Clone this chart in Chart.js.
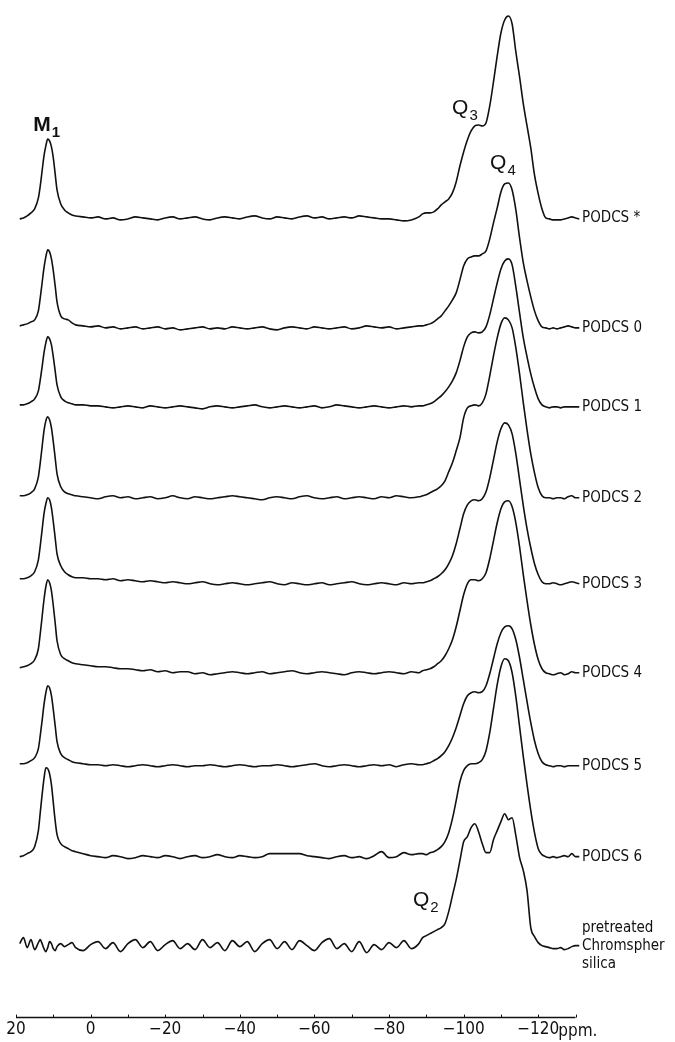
<!DOCTYPE html>
<html><head><meta charset="utf-8">
<script src="https://cdn.jsdelivr.net/npm/chart.js@4.4.1/dist/chart.umd.min.js"></script>
<style>html,body{margin:0;padding:0;background:#fff;}canvas{display:block;}</style>
</head><body>
<canvas id="c" width="675" height="1042" style="width:675px;height:1042px"></canvas>
<script>
// chemical shift grid (ppm)
const ppm = [19,18,17,16,15,14,13.5,13,12.5,12,11.5,11,10.5,10,9.5,9,8,7,6,5,4,
  2,0,-2,-4,-6,-8,-10,-12,-14,-16,-18,-20,-22,-24,-26,-28,-30,-32,-34,-36,-38,-40,-42,-44,-46,-48,-50,-52,-54,-56,-58,-60,-62,-64,-66,-68,-70,-72,-74,-76,-78,-80,-82,-84,-86,-88,
  -89,-90,-91,-92,-93,-94,-95,-96,-97,-98,-99,-100,-101,-102,-103,-104,-105,-106,-107,-108,-109,-110,-111,-112,-113,-114,-115,-116,-117,-118,-119,-120,-121,-122,-123,-124,-125,-126,-127,-128,-129,-130,-131];

const names = ['PODCS *','PODCS 0','PODCS 1','PODCS 2','PODCS 3','PODCS 4','PODCS 5','PODCS 6','pretreated\nChromspher\nsilica'];
const offsets = [800,690,611,520,434,345,252,161,72];

const podcsStar = [-1,0,2,5,9,20,32,47,62,72,79,77,71,60,44,28,14,8,5,3,2,
  1,0,1,-1,0,-2,-1,1,0,-1,-2,0,1,-1,0,1,-1,-2,0,1,0,-1,1,2,0,-1,1,0,-1,1,2,0,1,-1,0,1,0,2,1,0,-1,-1,-2,-3,-2,1,
  4,5,5,6,9,13,16,19,25,36,52,66,78,87,92,93,92,95,112,136,162,185,198,202,194,166,141,114,92,70,43,24,9,0,-1,-2,-2,-2,-1,0,1,0,-1];
const podcs0 = [2,3,4,6,8,17,30,45,60,71,78,76,69,57,42,26,12,9,8,5,3,
  2,1,2,0,1,-1,0,1,-1,0,1,-1,0,-2,-1,0,1,-1,0,-1,1,0,-1,0,1,-1,-2,0,1,0,-1,1,0,-1,0,1,-1,0,2,1,0,1,-1,0,1,2,
  2,3,4,6,9,12,17,22,28,35,48,62,69,71,72,72,74,77,89,105,120,136,144,145,138,118,90,65,47,31,17,7,1,0,-1,0,-1,0,1,2,1,0,0];
const podcs1 = [2,2,3,5,8,16,27,40,54,64,70,68,62,50,36,22,10,6,4,3,2,
  2,1,1,0,-1,0,1,0,-1,1,0,-1,0,1,0,-1,-2,0,1,0,-1,0,1,2,0,-1,0,1,0,-1,0,1,-1,0,2,1,0,-1,0,1,0,-1,0,1,0,1,
  1,2,3,5,8,11,15,20,26,34,46,60,70,74,75,74,75,80,92,108,124,138,146,148,142,120,94,69,50,33,19,8,2,0,-1,0,0,-1,0,0,0,0,0];
const podcs2 = [2,2,3,5,9,21,35,51,67,77,81,78,70,56,40,24,11,6,4,3,2,
  1,0,-1,1,2,0,1,-1,0,1,-1,0,2,0,-1,1,0,-1,0,1,2,1,0,-1,-2,0,1,0,-1,1,2,0,-1,0,1,-1,0,1,0,-1,1,0,2,1,0,1,
  2,3,5,7,9,12,17,26,35,47,60,80,90,92,93,92,95,104,122,142,160,174,180,178,170,150,124,95,68,44,25,10,2,0,0,-1,0,0,-1,1,2,0,0];
const podcs3 = [5,5,6,8,12,24,38,54,70,80,86,84,76,62,46,30,18,12,9,7,6,
  6,5,5,4,5,3,4,3,2,3,2,1,2,1,0,1,2,0,-1,0,1,0,-1,0,1,2,0,-1,1,0,-1,0,1,-1,0,1,2,0,-1,0,1,0,-1,1,0,1,
  1,2,3,5,7,10,14,20,28,40,55,70,79,83,84,83,85,92,106,124,142,155,161,159,150,130,104,78,55,36,20,9,2,0,0,1,0,-1,0,1,2,1,0];
const podcs4 = [5,6,7,9,13,24,39,56,73,86,93,90,82,67,50,32,18,14,12,10,9,
  8,7,6,6,5,4,4,3,2,3,1,2,0,1,1,-1,0,-2,-1,0,1,0,-1,0,1,-1,0,1,2,0,-1,0,1,0,-1,-2,0,1,0,-1,0,1,0,-1,1,0,
  2,3,4,6,9,12,17,24,33,46,62,78,89,93,93,92,94,100,114,132,150,164,171,172,166,150,126,98,72,48,28,13,4,0,-1,-2,-1,0,-2,-1,1,0,0];
const podcs5 = [2,2,3,5,8,17,30,45,61,73,80,78,70,56,40,24,12,8,6,4,3,
  2,1,1,0,1,0,-1,0,1,0,-1,0,1,0,-1,0,0,1,0,-1,0,1,0,-1,0,0,1,0,-1,0,1,2,0,-1,0,1,0,-1,0,1,0,1,-1,1,2,1,
  1,2,3,5,7,10,14,20,28,38,50,62,70,73,74,73,74,80,92,107,122,133,139,140,137,126,108,86,64,43,25,12,4,1,0,-1,0,0,-1,0,0,0,0];
const podcs6 = [0,1,3,5,10,26,44,62,78,89,88,83,72,54,36,22,13,10,8,6,5,
  3,1,0,-1,1,0,-2,-1,1,0,-1,1,0,-2,0,1,-1,0,2,0,-1,1,0,-1,0,3,3,3,3,3,1,0,-1,-2,0,1,-1,0,-2,1,5,-1,0,4,2,3,
  3,2,4,5,7,10,15,24,38,56,75,86,91,93,93,94,97,106,124,148,172,190,198,196,184,160,130,100,72,46,24,8,2,0,-1,0,-1,0,1,0,3,0,0];
const pretreated = [2,8,-2,6,-4,3,6,2,-3,-6,-2,4,2,-3,-5,-1,2,-1,1,3,-2,
  -5,1,4,-3,3,-6,2,6,-2,4,-5,1,5,-3,2,-4,6,-2,3,-5,5,-1,4,-6,2,6,-3,4,-4,5,0,-5,3,7,-3,2,-6,4,-7,1,-4,3,-2,5,-3,2,
  8,10,12,14,16,18,22,34,50,66,85,104,109,118,122,114,102,93,93,106,115,124,132,126,128,110,88,75,55,18,9,3,0,-1,-2,-3,-3,-2,-4,-3,-1,0,0];

const series = [podcsStar,podcs0,podcs1,podcs2,podcs3,podcs4,podcs5,podcs6,pretreated];

const tickValues = [20,0,-20,-40,-60,-80,-100,-120];
const tickLabels = ['20','0','\u221220','\u221240','\u221260','\u221280','\u2212100','\u2212120'];
const minorTicks = [20,10,0,-10,-20,-30,-40,-50,-60,-70,-80,-90,-100,-110,-120,-130];
const axisRange = [20,-130];
const unitText = 'ppm.';

const notes = [
  {t:'M', s:'1', x:15.4, y:887, bold:true},
  {t:'Q', s:'3', x:-96.9, y:904},
  {t:'Q', s:'4', x:-107.1, y:849},
  {t:'Q', s:'2', x:-86.4, y:112}
];

const INK = '#111';
const NARROW = "'Liberation Sans Narrow','DejaVu Sans Condensed','Liberation Sans',sans-serif";

const datasets = series.map((s,k)=>({
  label: names[k],
  data: ppm.map((p,i)=>({x:p, y:offsets[k]+s[i]})),
  borderColor: INK, borderWidth: 1.6, pointRadius: 0, fill:false,
  cubicInterpolationMode:'monotone'
}));

const deco = {
  id:'deco',
  afterDatasetsDraw(chart){
    const {ctx, chartArea, scales:{x,y}} = chart;
    ctx.save();
    ctx.strokeStyle = INK; ctx.fillStyle = INK;
    const yA = chartArea.bottom;
    ctx.lineWidth = 1.5;
    ctx.beginPath();
    ctx.moveTo(x.getPixelForValue(axisRange[0]), yA);
    ctx.lineTo(x.getPixelForValue(axisRange[1]), yA);
    ctx.stroke();
    ctx.lineWidth = 1;
    minorTicks.forEach(v=>{
      const px = Math.round(x.getPixelForValue(v))+0.5;
      ctx.beginPath(); ctx.moveTo(px, yA); ctx.lineTo(px, yA-3); ctx.stroke();
    });
    ctx.textBaseline = 'middle'; ctx.textAlign = 'left';
    ctx.font = "17px "+NARROW;
    ctx.fillText(unitText, x.getPixelForValue(-120)+20, yA+14);
    // series labels
    ctx.font = "15px "+NARROW;
    const xl = x.right - 1;
    names.forEach((n,k)=>{
      const yb = y.getPixelForValue(offsets[k]);
      const lines = n.split('\n');
      const mid = (lines.length-1)/2;
      lines.forEach((ln,j)=>{
        ctx.fillText(ln, xl, yb + (j-mid)*18 + 0.5);
      });
    });
    // peak annotations
    notes.forEach(n=>{
      const px = x.getPixelForValue(n.x), py = y.getPixelForValue(n.y);
      ctx.textBaseline = 'alphabetic';
      ctx.font = (n.bold?'bold ':'')+"21px 'Liberation Sans',Arial,sans-serif";
      ctx.fillText(n.t, px, py);
      const w = ctx.measureText(n.t).width;
      ctx.font = (n.bold?'bold ':'')+"15px 'Liberation Sans',Arial,sans-serif";
      ctx.fillText(n.s, px + w + 1, py + 6);
    });
    ctx.restore();
  }
};

new Chart(document.getElementById('c'), {
  type:'line',
  data:{datasets},
  options:{
    responsive:false, animation:false, devicePixelRatio:1,
    layout:{padding:{left:16,right:92,top:0,bottom:0}},
    plugins:{legend:{display:false}, tooltip:{enabled:false}},
    elements:{line:{tension:0}},
    scales:{
      x:{type:'linear', min:-132, max:20, reverse:true,
         grid:{display:false, drawTicks:false}, border:{display:false},
         afterBuildTicks:(sc)=>{ sc.ticks = tickValues.map(v=>({value:v})); },
         ticks:{autoSkip:false, maxRotation:0, padding:2, color:INK,
                font:{family:NARROW, size:17},
                callback:(v,i)=>tickLabels[i]}},
      y:{type:'linear', display:false, min:0, max:1018}
    }
  },
  plugins:[deco]
});
</script>
</body></html>
